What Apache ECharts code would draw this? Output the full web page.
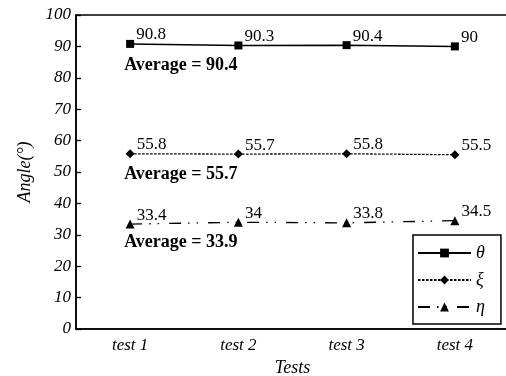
<!DOCTYPE html>
<html>
<head>
<meta charset="utf-8">
<script src="https://cdn.jsdelivr.net/npm/echarts@6/dist/echarts.min.js"></script>
<style>html,body{margin:0;padding:0;background:#fff}#c{width:506px;height:376px}</style>
</head>
<body>
<div id="c"></div>
<script>
var categories = ['test 1', 'test 2', 'test 3', 'test 4'];
var seriesNames = ['θ', 'ξ', 'η'];
var thetaValues = [90.8, 90.3, 90.4, 90];
var xiValues = [55.8, 55.7, 55.8, 55.5];
var etaValues = [33.4, 34, 33.8, 34.5];
var averages = [90.4, 55.7, 33.9];
var yTicks = [0, 10, 20, 30, 40, 50, 60, 70, 80, 90, 100];

var serif = '"Liberation Serif", "DejaVu Serif", serif';
var chart = echarts.init(document.getElementById('c'), null, {renderer: 'canvas'});

var styles = [
  {symbol: 'rect', symbolSize: 8, type: 'solid', width: 1.5},
  {symbol: 'diamond', symbolSize: 9, type: [2.5, 1.5], width: 1.3},
  {symbol: 'triangle', symbolSize: 9, type: [12, 7, 1.5, 7, 1.5, 10], width: 1.3}
];
var allValues = [thetaValues, xiValues, etaValues];

var series = seriesNames.map(function (name, i) {
  var st = styles[i];
  return {
    name: name,
    type: 'line',
    data: allValues[i],
    symbol: st.symbol,
    symbolSize: st.symbolSize,
    showAllSymbol: true,
    itemStyle: {color: '#000'},
    lineStyle: {color: '#000', width: st.width, type: st.type},
    label: {
      show: true, position: 'right', distance: 2, offset: [0, -9],
      color: '#000', fontFamily: serif, fontSize: 17
    },
    markPoint: {
      symbol: 'circle', symbolSize: 0, silent: true,
      data: [{coord: [0, averages[i]], value: averages[i]}],
      label: {
        show: true, position: 'right', distance: 0, offset: [-6, 20],
        color: '#000', fontFamily: serif, fontSize: 18, fontWeight: 'bold',
        formatter: function (p) { return 'Average = ' + p.value; }
      }
    },
    animation: false
  };
});

chart.setOption({
  animation: false,
  backgroundColor: '#fff',
  grid: {left: 76, right: -3, top: 15, bottom: 47, outerBoundsMode: 'none', containLabel: false,
    show: true, borderColor: '#000', borderWidth: 1.5, backgroundColor: 'transparent'},
  legend: {
    orient: 'vertical', left: 413, top: 235,
    data: seriesNames,
    itemWidth: 53, itemHeight: 11, itemGap: 9,
    padding: [9, 16, 8, 4],
    borderColor: '#000', borderWidth: 1.5, backgroundColor: '#fff',
    textStyle: {fontFamily: serif, fontStyle: 'italic', fontSize: 18, color: '#000'}
  },
  xAxis: {
    type: 'category', data: categories, boundaryGap: true,
    name: 'Tests', nameLocation: 'middle', nameGap: 21,
    nameTextStyle: {fontFamily: serif, fontStyle: 'italic', fontSize: 18, color: '#000'},
    axisLine: {lineStyle: {color: '#000', width: 1.5}},
    axisTick: {inside: true, length: 5, lineStyle: {color: '#000', width: 1.3}},
    axisLabel: {margin: 8, fontFamily: serif, fontStyle: 'italic', fontSize: 17, color: '#000'},
    splitLine: {show: false}
  },
  yAxis: {
    type: 'value', min: yTicks[0], max: yTicks[yTicks.length - 1], interval: yTicks[1] - yTicks[0],
    name: 'Angle(°)', nameLocation: 'middle', nameGap: 42, nameRotate: 90,
    nameTextStyle: {fontFamily: serif, fontStyle: 'italic', fontSize: 18, color: '#000'},
    axisLine: {show: true, lineStyle: {color: '#000', width: 1.5}},
    axisTick: {show: true, inside: true, length: 5, lineStyle: {color: '#000', width: 1.3}},
    axisLabel: {margin: 5, fontFamily: serif, fontStyle: 'italic', fontSize: 17, color: '#000'},
    splitLine: {show: false}
  },
  series: series
});
</script>
</body>
</html>
